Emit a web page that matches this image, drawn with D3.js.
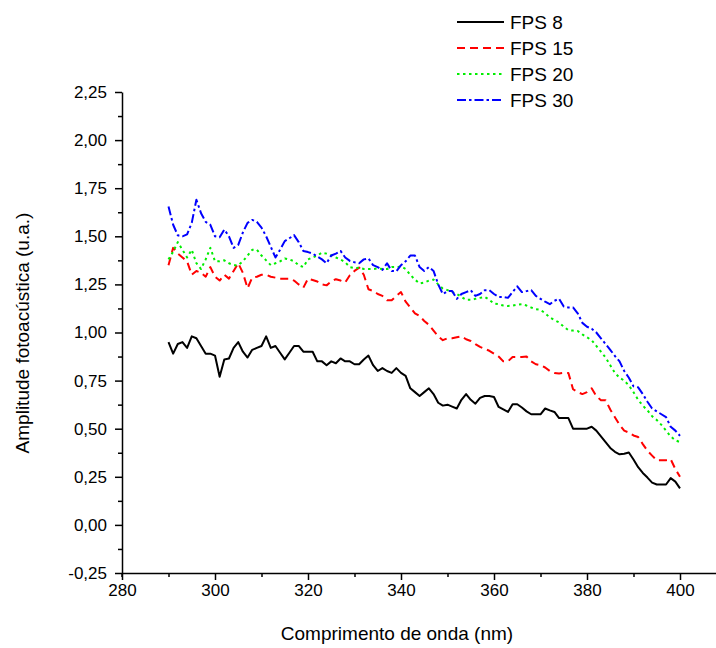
<!DOCTYPE html>
<html>
<head>
<meta charset="utf-8">
<script src="https://cdn.jsdelivr.net/npm/d3@7"></script>
<style>
	body { margin: 0; background: #fff; }
	.axis path, .axis line { stroke: #000; stroke-width: 1.5; }
	.axis text { font-family: 'Liberation Sans', Arial, sans-serif; font-size: 17px; fill: #000; }
</style>
</head>
<body>
<div class="chart"></div>
<script>
// photoacoustic spectra - FPS series
const wavelengths = [
	290, 291, 292, 293, 294, 295, 296, 297, 298, 299,
	300, 301, 302, 303, 304, 305, 306, 307, 308, 309,
	310, 311, 312, 313, 314, 315, 316, 317, 318, 319,
	320, 321, 322, 323, 324, 325, 326, 327, 328, 329,
	330, 331, 332, 333, 334, 335, 336, 337, 338, 339,
	340, 341, 342, 343, 344, 345, 346, 347, 348, 349,
	350, 351, 352, 353, 354, 355, 356, 357, 358, 359,
	360, 361, 362, 363, 364, 365, 366, 367, 368, 369,
	370, 371, 372, 373, 374, 375, 376, 377, 378, 379,
	380, 381, 382, 383, 384, 385, 386, 387, 388, 389,
	390, 391, 392, 393, 394, 395, 396, 397, 398, 399,
	400
]

const fps8 = [
	0.95, 0.89, 0.94, 0.95, 0.92, 0.98, 0.97, 0.93, 0.89, 0.89,
	0.88, 0.77, 0.86, 0.865, 0.92, 0.95, 0.90, 0.87, 0.91, 0.92,
	0.93, 0.98, 0.92, 0.93, 0.895, 0.86, 0.895, 0.93, 0.93, 0.90,
	0.90, 0.90, 0.85, 0.85, 0.83, 0.85, 0.84, 0.865, 0.85, 0.85,
	0.835, 0.835, 0.86, 0.88, 0.83, 0.80, 0.815, 0.80, 0.79, 0.815,
	0.79, 0.775, 0.71, 0.69, 0.67, 0.69, 0.71, 0.68, 0.635, 0.62,
	0.625, 0.615, 0.605, 0.65, 0.68, 0.65, 0.63, 0.66, 0.67, 0.67,
	0.665, 0.613, 0.60, 0.587, 0.627, 0.627, 0.61, 0.59, 0.575, 0.575,
	0.575, 0.605, 0.595, 0.587, 0.555, 0.555, 0.555, 0.50, 0.50, 0.50,
	0.50, 0.51, 0.49, 0.46, 0.43, 0.40, 0.38, 0.367, 0.37, 0.376,
	0.34, 0.30, 0.27, 0.246, 0.22, 0.21, 0.21, 0.21, 0.243, 0.225,
	0.19
]

const fps15 = [
	1.35, 1.44, 1.41, 1.39, 1.37, 1.30, 1.32, 1.31, 1.29, 1.34,
	1.29, 1.27, 1.30, 1.28, 1.32, 1.36, 1.31, 1.23, 1.285, 1.29,
	1.30, 1.30, 1.29, 1.285, 1.28, 1.28, 1.28, 1.27, 1.25, 1.233,
	1.28, 1.273, 1.265, 1.25, 1.245, 1.265, 1.277, 1.27, 1.26, 1.298,
	1.32, 1.337, 1.30, 1.225, 1.216, 1.20, 1.19, 1.168, 1.168, 1.19,
	1.21, 1.16, 1.13, 1.10, 1.086, 1.06, 1.04, 1.01, 0.98, 0.96,
	0.97, 0.97, 0.975, 0.98, 0.965, 0.956, 0.94, 0.925, 0.915, 0.905,
	0.89, 0.875, 0.85, 0.85, 0.873, 0.873, 0.873, 0.875, 0.85, 0.835,
	0.83, 0.818, 0.80, 0.79, 0.787, 0.79, 0.79, 0.705, 0.69, 0.68,
	0.69, 0.71, 0.67, 0.648, 0.648, 0.60, 0.56, 0.52, 0.49, 0.48,
	0.465, 0.457, 0.42, 0.385, 0.36, 0.336, 0.336, 0.336, 0.341, 0.29,
	0.25
]

const fps20 = [
	1.38, 1.42, 1.47, 1.43, 1.39, 1.43, 1.36, 1.33, 1.38, 1.44,
	1.37, 1.37, 1.375, 1.36, 1.35, 1.35, 1.37, 1.40, 1.43, 1.43,
	1.40, 1.375, 1.35, 1.36, 1.37, 1.385, 1.38, 1.37, 1.35, 1.34,
	1.38, 1.39, 1.40, 1.415, 1.41, 1.40, 1.39, 1.38, 1.365, 1.34,
	1.335, 1.337, 1.33, 1.33, 1.33, 1.333, 1.33, 1.33, 1.34, 1.34,
	1.343, 1.33, 1.30, 1.275, 1.255, 1.26, 1.27, 1.275, 1.25, 1.228,
	1.22, 1.21, 1.20, 1.185, 1.17, 1.17, 1.175, 1.18, 1.185, 1.17,
	1.15, 1.147, 1.14, 1.138, 1.14, 1.145, 1.147, 1.14, 1.13, 1.121,
	1.118, 1.10, 1.078, 1.065, 1.052, 1.03, 1.012, 1.01, 1.008, 0.99,
	0.975, 0.96, 0.93, 0.90, 0.87, 0.83, 0.79, 0.765, 0.75, 0.725,
	0.69, 0.65, 0.62, 0.595, 0.565, 0.545, 0.52, 0.49, 0.46, 0.44,
	0.43
]

const fps30 = [
	1.655, 1.56, 1.505, 1.50, 1.51, 1.57, 1.69, 1.62, 1.575, 1.56,
	1.50, 1.495, 1.535, 1.50, 1.44, 1.455, 1.52, 1.57, 1.585, 1.575,
	1.545, 1.50, 1.445, 1.39, 1.43, 1.475, 1.49, 1.506, 1.47, 1.424,
	1.418, 1.41, 1.395, 1.38, 1.36, 1.40, 1.41, 1.424, 1.39, 1.372,
	1.365, 1.36, 1.38, 1.385, 1.35, 1.34, 1.325, 1.36, 1.32, 1.318,
	1.35, 1.37, 1.40, 1.40, 1.34, 1.32, 1.34, 1.32, 1.25, 1.20,
	1.215, 1.216, 1.175, 1.20, 1.21, 1.22, 1.19, 1.20, 1.22, 1.22,
	1.20, 1.185, 1.185, 1.18, 1.21, 1.24, 1.21, 1.215, 1.22, 1.19,
	1.175, 1.16, 1.147, 1.165, 1.175, 1.135, 1.13, 1.13, 1.10, 1.05,
	1.03, 1.02, 1.00, 0.97, 0.94, 0.91, 0.878, 0.85, 0.80, 0.765,
	0.72, 0.715, 0.68, 0.64, 0.605, 0.59, 0.575, 0.56, 0.51, 0.49,
	0.463
]

const seriesNames = ['FPS 8', 'FPS 15', 'FPS 20', 'FPS 30']
const seriesValues = [fps8, fps15, fps20, fps30]
const seriesColors = ['#000000', '#ff0000', '#00ee00', '#0000ff']
const seriesDash = ['none', '8,5', '2.5,3.5', '9,3,2.5,3']

const xTicks = [280, 300, 320, 340, 360, 380, 400]
const yTicks = [-0.25, 0, 0.25, 0.5, 0.75, 1.0, 1.25, 1.5, 1.75, 2.0, 2.25]

const W = 716, H = 648
const plotLeft = 122, plotTop = 92, plotBottom = 573

const svg = d3.select('.chart')
	.append('svg')
	.attr('width', W)
	.attr('height', H)

const xScale = d3.scaleLinear()
	.domain([280, 410])
	.range([plotLeft, plotLeft + 130 * 4.65])

const yScale = d3.scaleLinear()
	.domain([-0.25, 2.25])
	.range([plotBottom, plotTop])

const ptBR = d3.formatLocale({decimal: ',', thousands: '.', grouping: [3], currency: ['', ''], minus: '-'})
const fmt = ptBR.format('.2f')

// minor ticks
const xMinor = [290, 310, 330, 350, 370, 390]
const yMinor = [-0.125, 0.125, 0.375, 0.625, 0.875, 1.125, 1.375, 1.625, 1.875, 2.125]

svg.append('g')
	.attr('class', 'axis')
	.attr('transform', `translate(0, ${plotBottom})`)
	.call(d3.axisBottom(xScale).tickValues(xMinor).tickSize(4).tickFormat(''))
	.call(g => g.select('.domain').remove())

svg.append('g')
	.attr('class', 'axis')
	.attr('transform', `translate(${plotLeft}, 0)`)
	.call(d3.axisLeft(yScale).tickValues(yMinor).tickSize(4).tickFormat(''))
	.call(g => g.select('.domain').remove())

// x axis
svg.append('g')
	.attr('class', 'axis x-axis')
	.attr('transform', `translate(0, ${plotBottom})`)
	.call(d3.axisBottom(xScale).tickValues(xTicks).tickSize(7).tickSizeOuter(0).tickPadding(4).tickFormat(d3.format('d')))

// y axis
svg.append('g')
	.attr('class', 'axis y-axis')
	.attr('transform', `translate(${plotLeft}, 0)`)
	.call(d3.axisLeft(yScale).tickValues(yTicks).tickSize(7).tickSizeOuter(0).tickPadding(8).tickFormat(fmt))

// y axis poking below x axis
svg.append('line')
	.attr('x1', plotLeft).attr('x2', plotLeft)
	.attr('y1', plotBottom).attr('y2', plotBottom + 4)
	.attr('stroke', '#000')
	.attr('stroke-width', 1.5)

// lines
const line = d3.line()
	.x((d, i) => xScale(wavelengths[i]))
	.y(d => yScale(d))

svg.append('g').selectAll('path')
	.data(seriesValues)
	.join('path')
	.attr('d', line)
	.attr('fill', 'none')
	.attr('stroke', (d, i) => seriesColors[i])
	.attr('stroke-width', 2)
	.attr('stroke-dasharray', (d, i) => seriesDash[i])
	.attr('stroke-linejoin', 'round')

// axis titles
svg.append('text')
	.attr('x', 397)
	.attr('y', 640)
	.attr('text-anchor', 'middle')
	.attr('font-family', 'Liberation Sans, Arial, sans-serif')
	.attr('font-size', '19px')
	.text('Comprimento de onda (nm)')

svg.append('text')
	.attr('transform', 'translate(29, 333) rotate(-90)')
	.attr('text-anchor', 'middle')
	.attr('font-family', 'Liberation Sans, Arial, sans-serif')
	.attr('font-size', '19px')
	.text('Amplitude fotoacústica (u.a.)')

// legend
const legend = svg.append('g')
legend.selectAll('line')
	.data(seriesNames)
	.join('line')
	.attr('x1', 457)
	.attr('x2', 504)
	.attr('y1', (d, i) => 22 + i * 26)
	.attr('y2', (d, i) => 22 + i * 26)
	.attr('stroke', (d, i) => seriesColors[i])
	.attr('stroke-width', 2)
	.attr('stroke-dasharray', (d, i) => seriesDash[i])

legend.selectAll('text')
	.data(seriesNames)
	.join('text')
	.attr('x', 510)
	.attr('y', (d, i) => 22 + i * 26)
	.attr('dy', '0.35em')
	.attr('font-family', 'Liberation Sans, Arial, sans-serif')
	.attr('font-size', '19px')
	.text(d => d)
</script>
</body>
</html>
